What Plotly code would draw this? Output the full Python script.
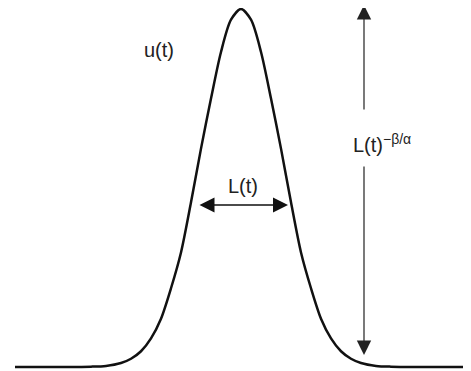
import plotly.graph_objects as go

# Horizontal offset from the peak (pixel-like units) and pulse height (peak = 1)
x_offsets = [-226, -150, -135, -120, -110, -100, -90, -80, -70, -60, -50, -40, -30, -20, -10,
             0, 10, 20, 30, 40, 50, 60, 70, 80, 90, 100, 110, 120, 135, 150, 227]
heights = [0.0, 0.001, 0.003, 0.011, 0.023, 0.044, 0.08, 0.135, 0.22, 0.32, 0.46, 0.61, 0.75, 0.88, 0.97,
           1.0, 0.97, 0.88, 0.75, 0.61, 0.46, 0.32, 0.22, 0.135, 0.08, 0.044, 0.023, 0.011, 0.003, 0.001, 0.0]

# Annotation geometry (data units)
width_arrow_x = [-43, 47]
width_arrow_y = 0.4525
height_arrow_x = 123
height_arrow_top = [1.011, 0.715]
height_arrow_bottom = [0.0335, 0.564]

labels = {
    "u": ("u(t)", -82, 0.885),
    "L": ("L(t)", 2, 0.505),
    "H": ("L(t)<sup>−β/α</sup>", 141, 0.625),
}

fig = go.Figure()
fig.add_trace(go.Scatter(x=x_offsets, y=heights, mode="lines",
                         line=dict(color="#111111", width=2.5, shape="spline", smoothing=0.8),
                         hoverinfo="skip", showlegend=False, cliponaxis=False))

font = dict(family="Liberation Sans, Arial, sans-serif", size=20, color="#222222")
annotations = []
# horizontal double arrow
annotations.append(dict(x=width_arrow_x[1], y=width_arrow_y, ax=width_arrow_x[0], ay=width_arrow_y,
                        xref="x", yref="y", axref="x", ayref="y", text="", showarrow=True,
                        arrowhead=2, startarrowhead=2, arrowside="end+start", arrowsize=2.0,
                        startarrowsize=2.0, arrowwidth=1.5, arrowcolor="#111111"))
# vertical arrow up
annotations.append(dict(x=height_arrow_x, y=height_arrow_top[0], ax=height_arrow_x, ay=height_arrow_top[1],
                        xref="x", yref="y", axref="x", ayref="y", text="", showarrow=True,
                        arrowhead=2, arrowsize=2.4, arrowwidth=1.2, arrowcolor="#222222"))
# vertical arrow down
annotations.append(dict(x=height_arrow_x, y=height_arrow_bottom[0], ax=height_arrow_x, ay=height_arrow_bottom[1],
                        xref="x", yref="y", axref="x", ayref="y", text="", showarrow=True,
                        arrowhead=2, arrowsize=2.4, arrowwidth=1.2, arrowcolor="#222222"))
for key, (txt, lx, ly) in labels.items():
    annotations.append(dict(x=lx, y=ly, xref="x", yref="y", text=txt, showarrow=False, font=font))

# The page places the figure 8px from the top-left corner; ranges compensate for that.
fig.update_layout(
    width=463, height=363,
    margin=dict(l=0, r=0, t=0, b=0),
    paper_bgcolor="white", plot_bgcolor="white",
    xaxis=dict(range=[-233, 230], visible=False, fixedrange=True),
    yaxis=dict(range=[-0.01117, 1.00279], visible=False, fixedrange=True),
    annotations=annotations,
    showlegend=False,
)
fig.write_html("out.html")
